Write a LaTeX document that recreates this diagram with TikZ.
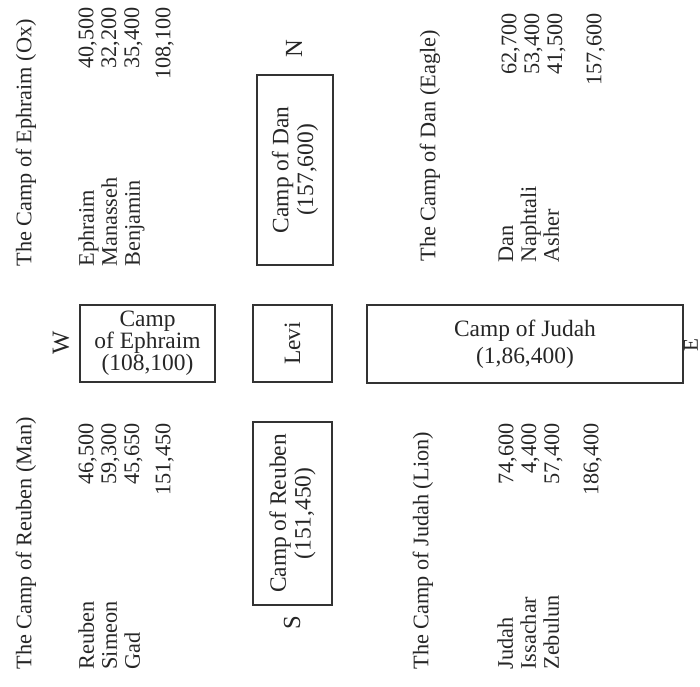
\documentclass[tikz,border=0pt]{standalone}
\usepackage{fontspec}
\setmainfont{Liberation Serif}
\usetikzlibrary{positioning}
\tikzset{
    x=0.015cm, y=-0.015cm, % one unit is one pixel of the page
    every node/.style={inner sep=0pt, text=black!85},
    camp/.style={draw=black!80, line width=1.2pt, align=center, font=\fontsize{10}{10.5}\selectfont}, % the boxes
    upward/.style={rotate=90}, % text read from bottom to top
    heading/.style={upward, anchor=west, font=\fontsize{9.5}{11}\selectfont},
    names/.style={upward, anchor=north west, align=left, font=\fontsize{9.5}{9.8}\selectfont},
    counts/.style={upward, anchor=north east, align=right, font=\fontsize{9.5}{9.8}\selectfont},
    wind/.style={upward, font=\fontsize{10.5}{11}\selectfont},
    }

\begin{document}
\begin{tikzpicture}
    \useasboundingbox (0,0) rectangle (700,687);
    % the five boxes
    \node[camp, upward, minimum width=2.85cm, minimum height=1.14cm] (dan) at (295,170) {Camp of Dan\\(157,600)};
    \node[camp, minimum width=2.025cm, minimum height=1.155cm, font=\fontsize{10}{9.4}\selectfont] (ephraim) at (147.5,343.5) {Camp\\of Ephraim\\(108,100)};
    \node[camp, upward, minimum width=1.155cm, minimum height=1.185cm] (levi) at (292.5,343.5) {Levi};
    \node[camp, minimum width=4.74cm, minimum height=1.17cm, font=\fontsize{10}{11.5}\selectfont] (judah) at (525,344) {Camp of Judah\\(1,86,400)};
    \node[camp, upward, minimum width=2.745cm, minimum height=1.185cm] (reuben) at (292.5,513.5) {Camp of Reuben\\(151,450)};
    % the four winds
    \node[wind] (north) at (294,49) {N};
    \node[wind] (west) at (61,343) {W};
    \node[wind] (south) at (292,623) {S};
    \node[wind, font=\fontsize{9}{9}\selectfont] (east) at (691,345) {E};
    % camp of Ephraim
    \node[heading] (ephraimtitle) at (26,267) {The Camp of Ephraim (Ox)};
    \node[names] (ephraimnames) at (78,267) {Ephraim\\Manasseh\\Benjamin};
    \node[counts] (ephraimcounts) at (78,7) {40,500\\32,200\\35,400};
    \node[counts] (ephraimtotal) at (155,7) {108,100};
    % camp of Dan
    \node[heading] (dantitle) at (430,262) {The Camp of Dan (Eagle)};
    \node[names] (dannames) at (498,263) {Dan\\Naphtali\\Asher};
    \node[counts] (dancounts) at (501,13) {62,700\\53,400\\41,500};
    \node[counts] (dantotal) at (586,13) {157,600};
    % camp of Reuben
    \node[heading] (reubentitle) at (26,670) {The Camp of Reuben (Man)};
    \node[names] (reubennames) at (78,670) {Reuben\\Simeon\\Gad};
    \node[counts] (reubencounts) at (78,423) {46,500\\59,300\\45,650};
    \node[counts] (reubentotal) at (155,423) {151,450};
    % camp of Judah
    \node[heading] (judahtitle) at (423,670) {The Camp of Judah (Lion)};
    \node[names] (judahnames) at (497,670) {Judah\\Issachar\\Zebulun};
    \node[counts] (judahcounts) at (498,423) {74,600\\4,400\\57,400};
    \node[counts] (judahtotal) at (583,423) {186,400};
\end{tikzpicture}
\end{document}
